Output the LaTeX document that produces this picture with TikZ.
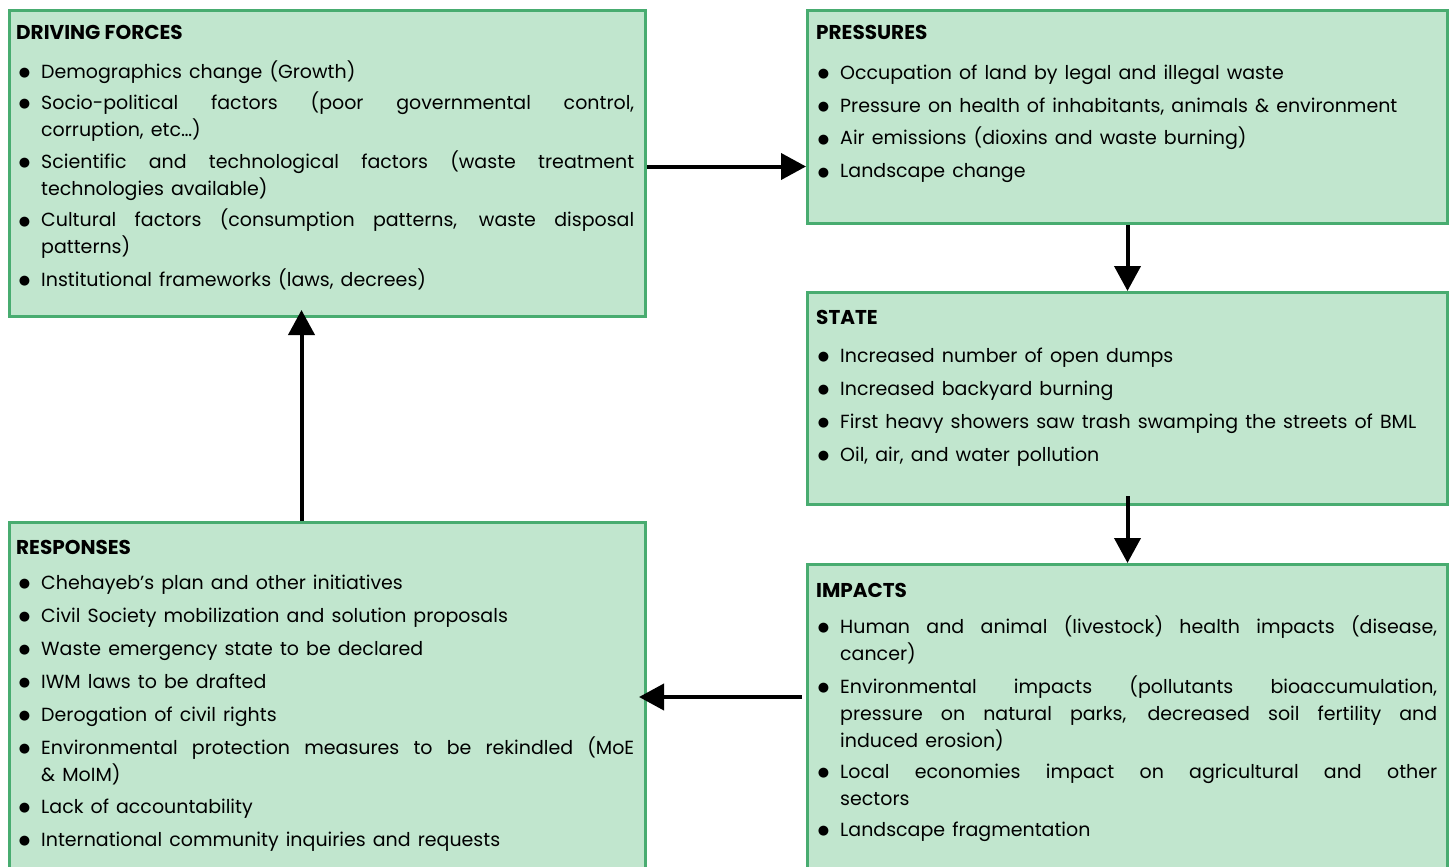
\documentclass[tikz,border=0pt]{standalone}
\usepackage{fontspec}
\setmainfont{Poppins}
\newfontfamily\djv{DejaVu Sans}
\usetikzlibrary{arrows.meta,calc}
\definecolor{boxfill}{RGB}{193,230,206}
\definecolor{boxline}{RGB}{72,172,112}
\newcommand{\bul}{\leavevmode\llap{\raisebox{1.3pt}{\djv\fontsize{13}{13}\selectfont ●}\hspace{11pt}}}
\newcommand{\nsp}{\spaceskip=\dimexpr\fontdimen2\font+2pt\relax}
\newcommand{\jl}[1]{\makebox[\hsize][s]{\spaceskip=\fontdimen2\font plus 1fil\relax #1}}
\tikzset{
  x=1pt, y=-1pt,
  panel/.style={draw=boxline, fill=boxfill, line width=3pt, anchor=north west, inner sep=0pt},
  ttl/.style={anchor=base west, inner sep=0pt, font=\fontsize{20}{24}\selectfont\bfseries},
  items/.style={anchor=base west, inner sep=0pt, align=left, font=\fontsize{19}{27}\selectfont},
  arr/.style={line width=4pt, -{Triangle[length=25pt,width=26pt]}}
}
\begin{document}
\begin{tikzpicture}
\useasboundingbox (0,0) rectangle (1451,867);
% boxes
\node[panel, minimum width=636pt, minimum height=306pt] (df) at (8,9) {};
\node[panel, minimum width=640pt, minimum height=213pt] (pr) at (806,9) {};
\node[panel, minimum width=640pt, minimum height=212pt] (st) at (806,291) {};
\node[panel, minimum width=640pt, minimum height=330pt] (im) at (806,563) {};
\node[panel, minimum width=636pt, minimum height=372pt] (re) at (8,521) {};
% titles
\node[ttl] (dft) at (16,40) {DRIVING FORCES};
\node[ttl] (prt) at (816,40) {PRESSURES};
\node[ttl] (stt) at (816,324) {STATE};
\node[ttl] (imt) at (816,597) {IMPACTS};
\node[ttl] (ret) at (16,554) {RESPONSES};
% items
\node[items, text width=593pt] (dfi) at (41,78) {\nsp
\bul Demographics change (Growth)\\[4pt]
\bul\jl{Socio-political factors (poor governmental control,}\\
corruption, etc…)\\[5pt]
\bul\jl{Scientific and technological factors (waste treatment}\\
technologies available)\\[5pt]
\bul\jl{Cultural factors (consumption patterns, waste disposal}\\
patterns)\\[5pt]
\bul Institutional frameworks (laws, decrees)};
\node[items, text width=597pt] (pri) at (840,79) {\nsp
\bul Occupation of land by legal and illegal waste\\[6pt]
\bul Pressure on health of inhabitants, animals \& environment\\[6pt]
\bul Air emissions (dioxins and waste burning)\\[6pt]
\bul Landscape change};
\node[items, text width=597pt] (sti) at (840,362) {\nsp
\bul Increased number of open dumps\\[6pt]
\bul Increased backyard burning\\[6pt]
\bul First heavy showers saw trash swamping the streets of BML\\[6pt]
\bul Oil, air, and water pollution};
\node[items, text width=597pt] (imi) at (840,633) {\nsp
\bul\jl{Human and animal (livestock) health impacts (disease,}\\
cancer)\\[6pt]
\bul\jl{Environmental impacts (pollutants bioaccumulation,}\\
\jl{pressure on natural parks, decreased soil fertility and}\\
induced erosion)\\[4pt]
\bul\jl{Local economies impact on agricultural and other}\\
sectors\\[4pt]
\bul Landscape fragmentation};
\node[items, text width=593pt] (rei) at (41,589) {\nsp
\bul Chehayeb’s plan and other initiatives\\[6pt]
\bul Civil Society mobilization and solution proposals\\[6pt]
\bul Waste emergency state to be declared\\[6pt]
\bul IWM laws to be drafted\\[6pt]
\bul Derogation of civil rights\\[6pt]
\bul\jl{Environmental protection measures to be rekindled (MoE}\\
\& MoIM)\\[5pt]
\bul Lack of accountability\\[6pt]
\bul International community inquiries and requests};
% arrows
\draw[arr] ($(df.east)+(0,3)$) -- ($(df.east -| pr.west)+(0,3)$);
\draw[arr] (pr.south) -- (st.north);
\draw[arr] ($(st.south)+(0,-10)$) -- (im.north);
\draw[arr] ($(im.north west)+(-4,134)$) -- ($(re.north east)+(-8,176)$);
\draw[arr] ($(re.north)+(-26,0)$) -- ($(df.south)+(-26,-8)$);
\end{tikzpicture}
\end{document}
